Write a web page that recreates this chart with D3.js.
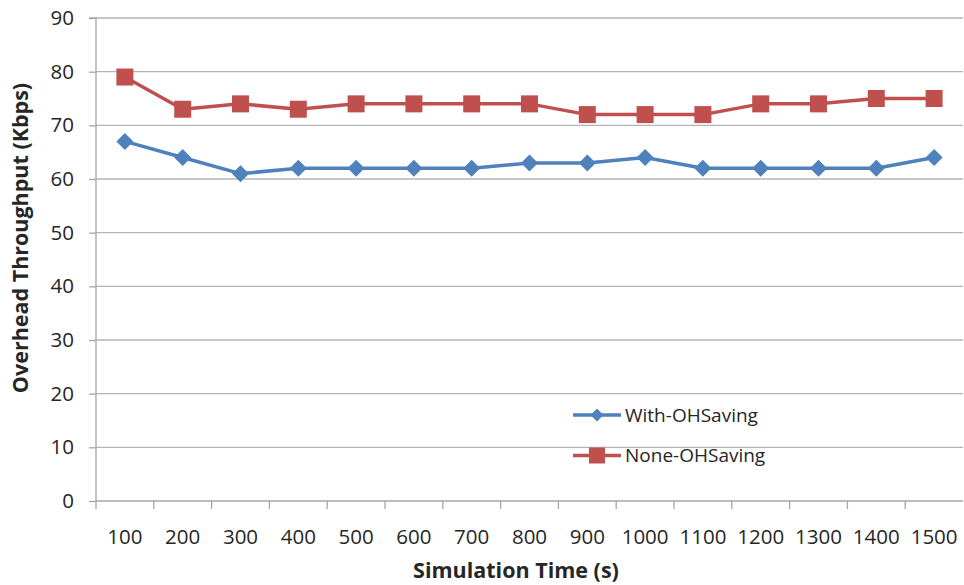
<!DOCTYPE html>
<html><head><meta charset="utf-8">
<script src="https://cdn.jsdelivr.net/npm/d3@7"></script>
<style>
body{margin:0;background:#fff;}
text{font-family:"Open Sans",sans-serif;fill:#262626;}
</style></head>
<body><svg id="c" width="964" height="585"></svg>
<script>
const categories = ["100","200","300","400","500","600","700","800","900","1000","1100","1200","1300","1400","1500"];
const withOH = [67,64,61,62,62,62,62,63,63,64,62,62,62,62,64];
const noneOH = [79,73,74,73,74,74,74,74,72,72,72,74,74,75,75];
const seriesNames = ["With-OHSaving","None-OHSaving"];
const yTicks = [0,10,20,30,40,50,60,70,80,90];

const svg = d3.select("#c");
const L=96, R=963, T=18, B=501;
const x = d3.scaleBand().domain(categories).range([L,R]);
const y = d3.scaleLinear().domain([0,90]).range([B,T]);

// gridlines
svg.append("g").selectAll("line").data(yTicks.slice(1)).join("line")
  .attr("x1",L).attr("x2",R).attr("y1",d=>y(d)).attr("y2",d=>y(d))
  .attr("stroke","#b4b4b4").attr("stroke-width",1.3);

// y axis
const ya = svg.append("g").attr("transform",`translate(${L},0)`)
  .call(d3.axisLeft(y).tickValues(yTicks).tickSize(7).tickPadding(15));
ya.select(".domain").attr("stroke","#a6a6a6").attr("stroke-width",1.3).attr("d",`M-7,${T}H0V${B}`);
ya.selectAll(".tick line").attr("stroke","#a6a6a6").attr("stroke-width",1.3);
ya.selectAll("text").attr("font-size",20.5).attr("fill","#262626").attr("font-family","Open Sans");

// x axis
const xa = svg.append("g").attr("transform",`translate(0,${B})`)
  .call(d3.axisBottom(x).tickSize(0).tickPadding(28));
xa.select(".domain").attr("stroke","#a6a6a6").attr("stroke-width",1.3).attr("d",`M${L},0H${R}`);
xa.selectAll("text").attr("font-size",20.5).attr("fill","#262626").attr("font-family","Open Sans");
// x tick marks at band boundaries
svg.append("g").selectAll("line").data(categories).join("line")
  .attr("x1",d=>x(d)).attr("x2",d=>x(d)).attr("y1",B).attr("y2",B+8)
  .attr("stroke","#a6a6a6").attr("stroke-width",1.3);

const cx = d=>x(d)+x.bandwidth()/2;
const colors = ["#4F81BD","#C0504D"];
const line = d3.line().x((d,i)=>cx(categories[i])).y(d=>y(d));

// blue
svg.append("path").datum(withOH).attr("d",line).attr("fill","none")
  .attr("stroke",colors[0]).attr("stroke-width",3.5).attr("stroke-linejoin","round");
svg.append("g").selectAll("path").data(withOH).join("path")
  .attr("transform",(d,i)=>`translate(${cx(categories[i])},${y(d)})`)
  .attr("d","M0,-8.5L8.5,0L0,8.5L-8.5,0Z").attr("fill",colors[0]);

// red
svg.append("path").datum(noneOH).attr("d",line).attr("fill","none")
  .attr("stroke",colors[1]).attr("stroke-width",3.5).attr("stroke-linejoin","round");
svg.append("g").selectAll("rect").data(noneOH).join("rect")
  .attr("x",(d,i)=>cx(categories[i])-8.5).attr("y",d=>y(d)-8.5)
  .attr("width",17).attr("height",17).attr("fill",colors[1]);

// legend
const lg = svg.append("g");
const ly = [415,455.5];
seriesNames.forEach((n,i)=>{
  lg.append("line").attr("x1",573).attr("x2",621).attr("y1",ly[i]).attr("y2",ly[i])
    .attr("stroke",colors[i]).attr("stroke-width",3.5);
  if(i===0) lg.append("path").attr("transform",`translate(597,${ly[i]})`).attr("d","M0,-6.5L6.5,0L0,6.5L-6.5,0Z").attr("fill",colors[i]);
  else lg.append("rect").attr("x",597-8).attr("y",ly[i]-8).attr("width",16).attr("height",16).attr("fill",colors[i]);
  lg.append("text").attr("x",625).attr("y",ly[i]).attr("dy","0.35em").attr("font-size",19).text(n);
});

// axis titles
svg.append("text").attr("transform","translate(28,238) rotate(-90)").attr("text-anchor","middle")
  .attr("font-size",21.5).attr("font-weight","bold").text("Overhead Throughput (Kbps)");
svg.append("text").attr("x",516).attr("y",578).attr("text-anchor","middle")
  .attr("font-size",21.5).attr("font-weight","bold").text("Simulation Time (s)");
</script></body></html>
